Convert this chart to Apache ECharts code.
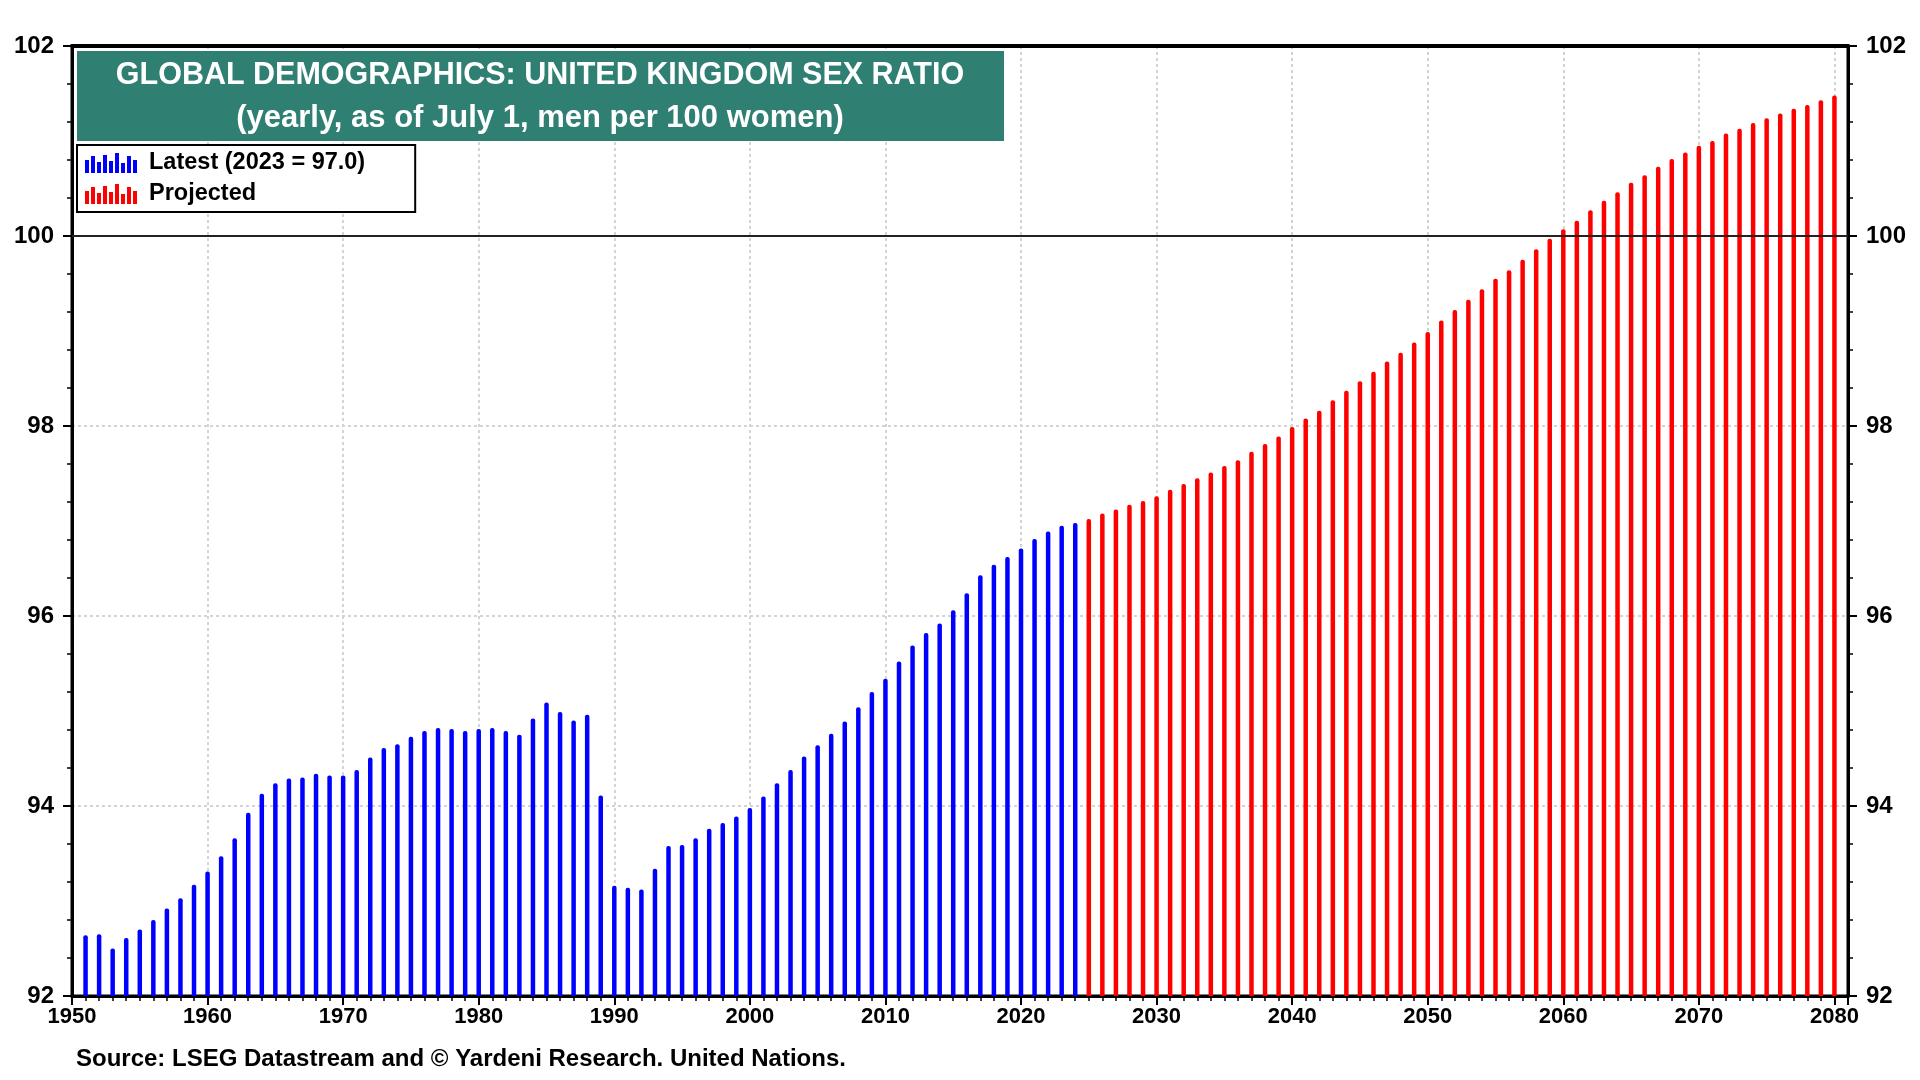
<!DOCTYPE html>
<html>
<head>
<meta charset="utf-8">
<script src="https://cdn.jsdelivr.net/npm/echarts@6/dist/echarts.min.js"></script>
<style>
html,body{margin:0;padding:0;background:#fff;}
#chart{width:1920px;height:1080px;}
</style>
</head>
<body>
<div id="chart"></div>
<script>
// Bar positions on the time axis (as plotted) and values (men per 100 women)
var latestYears = [1951,1952,1953,1954,1955,1956,1957,1958,1959,1960,1961,1962,1963,1964,1965,1966,1967,1968,1969,1970,
  1971,1972,1973,1974,1975,1976,1977,1978,1979,1980,1981,1982,1983,1984,1985,1986,1987,1988,1989,1990,
  1991,1992,1993,1994,1995,1996,1997,1998,1999,2000,2001,2002,2003,2004,2005,2006,2007,2008,2009,2010,
  2011,2012,2013,2014,2015,2016,2017,2018,2019,2020,2021,2022,2023,2024];
var latestValues = [92.64,92.65,92.50,92.61,92.70,92.80,92.92,93.03,93.17,93.31,93.47,93.66,93.93,94.13,94.24,94.29,94.30,94.34,94.32,94.32,
  94.38,94.51,94.61,94.65,94.73,94.79,94.82,94.81,94.79,94.81,94.82,94.79,94.75,94.92,95.09,94.99,94.90,94.96,94.11,93.16,
  93.14,93.12,93.34,93.58,93.59,93.66,93.76,93.82,93.89,93.98,94.10,94.24,94.38,94.52,94.64,94.76,94.89,95.04,95.20,95.34,
  95.52,95.69,95.82,95.92,96.06,96.24,96.43,96.54,96.62,96.71,96.81,96.89,96.95,96.98];
var projectedYears = [2025,2026,2027,2028,2029,2030,2031,2032,2033,2034,2035,2036,2037,2038,2039,2040,
  2041,2042,2043,2044,2045,2046,2047,2048,2049,2050,2051,2052,2053,2054,2055,2056,2057,2058,2059,2060,
  2061,2062,2063,2064,2065,2066,2067,2068,2069,2070,2071,2072,2073,2074,2075,2076,2077,2078,2079,2080];
var projectedValues = [97.02,97.08,97.12,97.17,97.21,97.26,97.33,97.39,97.45,97.51,97.58,97.64,97.73,97.81,97.89,97.99,
  98.08,98.16,98.27,98.37,98.47,98.57,98.68,98.77,98.88,98.99,99.11,99.22,99.33,99.44,99.55,99.64,99.75,99.86,99.97,100.07,
  100.16,100.27,100.37,100.46,100.56,100.64,100.73,100.81,100.88,100.95,101.00,101.08,101.13,101.19,101.24,101.29,101.34,101.38,101.43,101.48];
var yTicks = {min: 92, max: 102, step: 2};
var xTicks = {min: 1950, max: 2081, step: 10};
var referenceLevel = 100;
var titleLines = ['GLOBAL DEMOGRAPHICS: UNITED KINGDOM SEX RATIO', '(yearly, as of July 1, men per 100 women)'];
var seriesNames = ['Latest (2023 = 97.0)', 'Projected'];
var sourceText = 'Source: LSEG Datastream and \u00A9 Yardeni Research. United Nations.';

var FONT = '"Liberation Sans", Arial, Helvetica, sans-serif';
function zip(xs, ys){ var out=[]; for (var i=0;i<xs.length;i++) out.push([xs[i], ys[i]]); return out; }

var legendIcon = 'path://M0,7h4v13h-4z M6,3h4v17h-4z M12,9h4v11h-4z M18,2h4v18h-4z M24,8h4v12h-4z M30,0h4v20h-4z M36,10h4v10h-4z M42,3h4v17h-4z M48,7h4v13h-4z';

var gridLine = {show:true, lineStyle:{color:'#d4d4d4', width:2, type:[3,3]}};
function yAxisCfg(pos, split){
  return {
    type:'value', position:pos, min:yTicks.min, max:yTicks.max, interval:yTicks.step,
    axisLine:{show:true, lineStyle:{color:'#000', width:3}},
    axisTick:{show:true, length:9, lineStyle:{color:'#000', width:2}},
    minorTick:{show:true, splitNumber:5, length:5, lineStyle:{color:'#000', width:1.5}},
    axisLabel:{color:'#000', fontSize:24, fontWeight:'bold', fontFamily:FONT, margin:18},
    splitLine: split ? gridLine : {show:false}
  };
}

var chart = echarts.init(document.getElementById('chart'), null, {renderer:'canvas'});
chart.setOption({
  animation:false,
  backgroundColor:'#fff',
  grid:{left:72, right:72, top:46, bottom:84, show:true, borderColor:'#000', borderWidth:3, backgroundColor:'transparent'},
  xAxis:[{
    type:'value', position:'bottom', min:xTicks.min, max:xTicks.max, interval:xTicks.step,
    axisLine:{show:true, lineStyle:{color:'#000', width:3}},
    axisTick:{show:true, length:9, lineStyle:{color:'#000', width:2}},
    minorTick:{show:true, splitNumber:10, length:5, lineStyle:{color:'#000', width:1.5}},
    axisLabel:{color:'#000', fontSize:22, fontWeight:'bold', fontFamily:FONT, margin:10,
      formatter:function(v){ return (v % 10 === 0) ? String(v) : ''; }},
    splitLine:gridLine
  },{
    type:'value', position:'top', min:xTicks.min, max:xTicks.max, interval:xTicks.step,
    axisLine:{show:true, onZero:false, lineStyle:{color:'#000', width:4}},
    axisTick:{show:false}, axisLabel:{show:false}, splitLine:{show:false}
  }],
  yAxis:[yAxisCfg('left', true), yAxisCfg('right', false)],
  legend:{
    left:77, top:145, orient:'vertical', itemWidth:52, itemHeight:21, itemGap:7,
    padding:[6,50,6,8], borderColor:'#000', borderWidth:2, backgroundColor:'#fff',
    textStyle:{color:'#000', fontSize:23.5, fontWeight:'bold', fontFamily:FONT, padding:[0,0,0,7]},
    data:[{name:seriesNames[0], icon:legendIcon},{name:seriesNames[1], icon:legendIcon}],
    z:20
  },
  series:[
    {name:seriesNames[0], type:'bar', xAxisIndex:0, yAxisIndex:0, barWidth:4.5, barGap:'-100%',
     itemStyle:{color:'#0000ff', borderRadius:[2,2,0,0]}, data:zip(latestYears, latestValues)},
    {name:seriesNames[1], type:'bar', xAxisIndex:0, yAxisIndex:0, barWidth:4.5, barGap:'-100%',
     itemStyle:{color:'#ff0000', borderRadius:[2,2,0,0]}, data:zip(projectedYears, projectedValues),
     markLine:{silent:true, symbol:'none', label:{show:false}, data:[{yAxis:referenceLevel}],
       lineStyle:{color:'#222', width:2, type:'solid'}}}
  ],
  graphic:[
    {type:'rect', z:50, shape:{x:77, y:51, width:927, height:90}, style:{fill:'#2f7f73'}},
    {type:'text', z:51, x:540, y:76, style:{text:titleLines[0], fill:'#fff', textAlign:'center', textVerticalAlign:'middle',
      font:'bold 30.5px ' + FONT}},
    {type:'text', z:51, x:540, y:118, style:{text:titleLines[1], fill:'#fff', textAlign:'center', textVerticalAlign:'middle',
      font:'bold 31px ' + FONT}},
    {type:'text', z:51, x:76, y:1059, style:{text:sourceText, fill:'#000', textAlign:'left', textVerticalAlign:'middle',
      font:'bold 24px ' + FONT}}
  ]
});
</script>
</body>
</html>
